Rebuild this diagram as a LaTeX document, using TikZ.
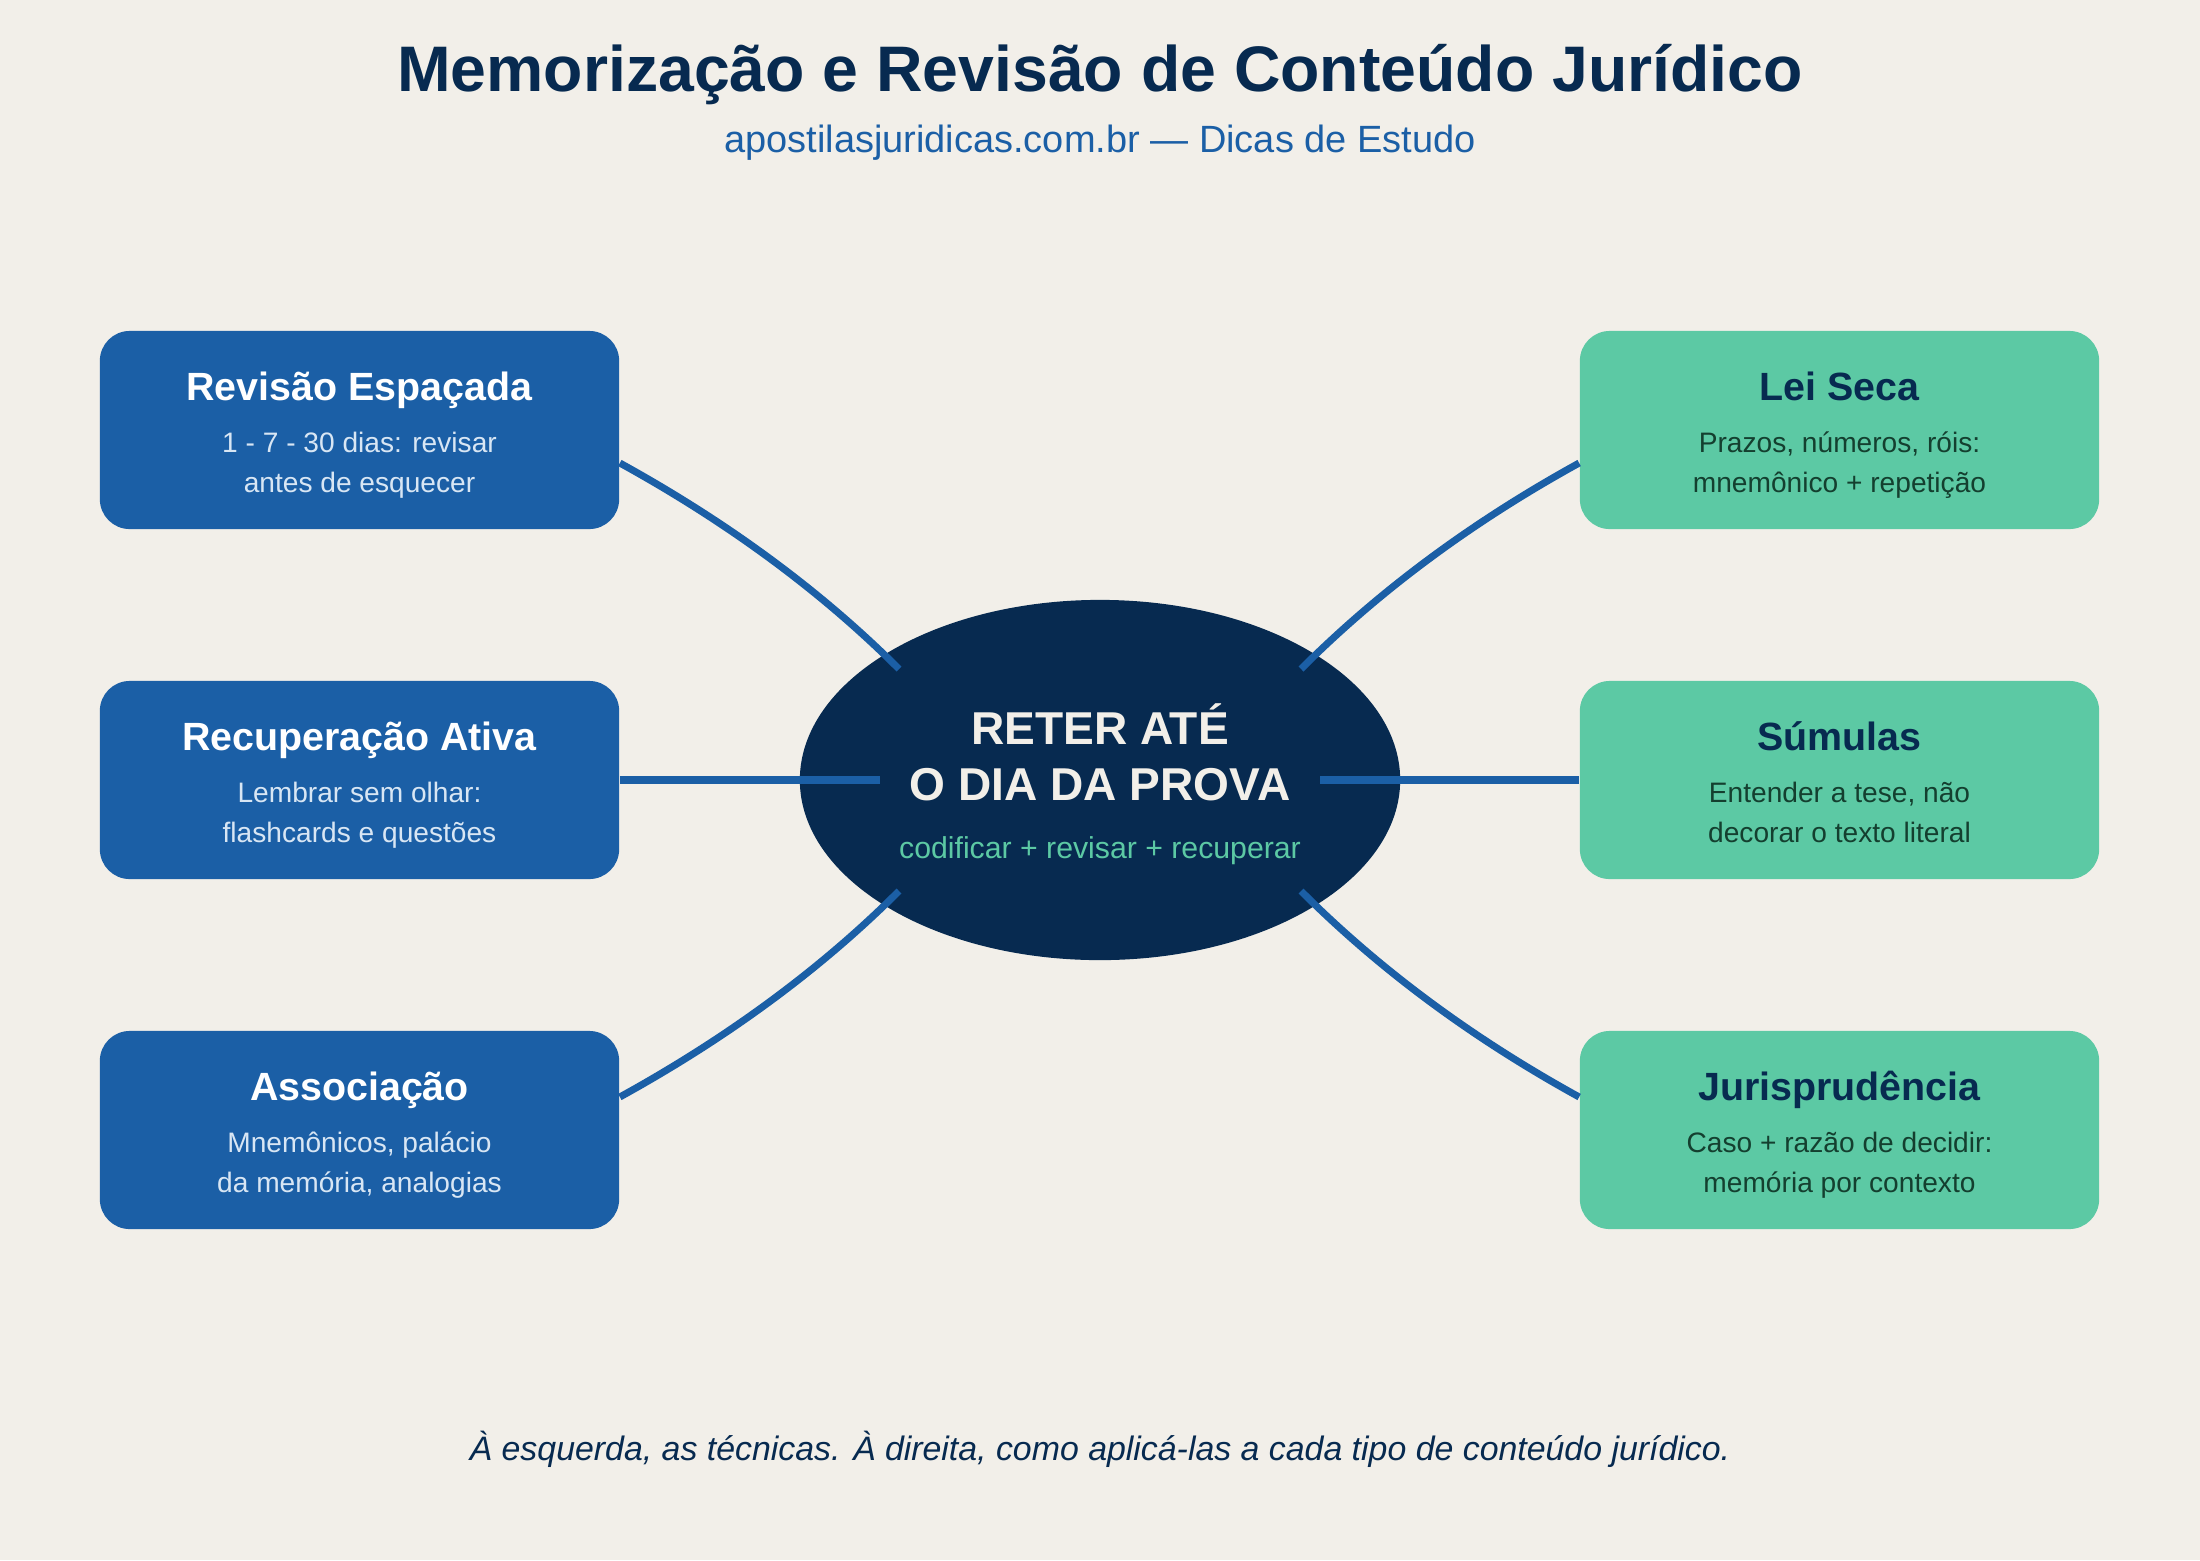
\documentclass[tikz,border=0pt]{standalone}
\usepackage{fontspec}
\setmainfont{Liberation Sans}
\usetikzlibrary{shapes.geometric}
\definecolor{paper}{HTML}{F2EFE9}
\definecolor{navy}{HTML}{072A50}
\definecolor{techblue}{HTML}{1B5FA6}
\definecolor{mint}{HTML}{5CC9A4}
\definecolor{paleblue}{HTML}{D8E6F4}
\definecolor{deepgreen}{HTML}{143F2F}
\begin{document}
\begin{tikzpicture}[x=0.01cm,y=-0.01cm,
    card/.style={rounded corners=8.5pt,minimum width=5.19cm,minimum height=1.98cm,inner sep=0pt},
    tech/.style={card,fill=techblue},
    kind/.style={card,fill=mint},
    head/.style={anchor=base,inner sep=0pt,font=\fontsize{11.2pt}{13pt}\selectfont\bfseries},
    body/.style={anchor=base,inner sep=0pt,align=center,font=\fontsize{8pt}{11.1pt}\selectfont},
    link/.style={techblue,line width=2pt}]
  \fill[paper] (0,0) rectangle (2200,1560);
  % heading
  \node[anchor=base,inner sep=0pt,navy,font=\fontsize{18.3pt}{20pt}\selectfont\bfseries] (title) at (1100,91)
    {Memorização e Revisão de Conteúdo Jurídico};
  \node[anchor=base,inner sep=0pt,techblue,font=\fontsize{10.8pt}{13pt}\selectfont] (sub) at (1100,152)
    {apostilasjuridicas.com.br — Dicas de Estudo};
  % centre
  \node[ellipse,fill=navy,minimum width=6cm,minimum height=3.6cm,inner sep=0pt] (core) at (1100,780) {};
  \node[anchor=base,inner sep=0pt,align=center,paper,font=\fontsize{13.1pt}{15.9pt}\selectfont\bfseries] (goal) at (1100,800)
    {RETER ATÉ\\O DIA DA PROVA};
  \node[anchor=base,inner sep=0pt,mint,font=\fontsize{8.6pt}{10pt}\selectfont] (recipe) at (1100,858)
    {codificar + revisar + recuperar};
  % techniques
  \node[tech] (spaced) at (359.5,430) {};
  \node[head,white] (spacedT) at (359.5,400) {Revisão Espaçada};
  \node[body,paleblue] (spacedB) at (359.5,492) {1 - 7 - 30 dias: revisar\\antes de esquecer};
  \node[tech] (recall) at (359.5,780) {};
  \node[head,white] (recallT) at (359.5,750) {Recuperação Ativa};
  \node[body,paleblue] (recallB) at (359.5,842) {Lembrar sem olhar:\\flashcards e questões};
  \node[tech] (assoc) at (359.5,1130) {};
  \node[head,white] (assocT) at (359.5,1100) {Associação};
  \node[body,paleblue] (assocB) at (359.5,1192) {Mnemônicos, palácio\\da memória, analogias};
  % content types
  \node[kind] (law) at (1839.5,430) {};
  \node[head,navy] (lawT) at (1839.5,400) {Lei Seca};
  \node[body,deepgreen] (lawB) at (1839.5,492) {Prazos, números, róis:\\mnemônico + repetição};
  \node[kind] (sum) at (1839.5,780) {};
  \node[head,navy] (sumT) at (1839.5,750) {Súmulas};
  \node[body,deepgreen] (sumB) at (1839.5,842) {Entender a tese, não\\decorar o texto literal};
  \node[kind] (case) at (1839.5,1130) {};
  \node[head,navy] (caseT) at (1839.5,1100) {Jurisprudência};
  \node[body,deepgreen] (caseB) at (1839.5,1192) {Caso + razão de decidir:\\memória por contexto};
  % links into the centre
  \coordinate (inTL) at (899,669);
  \coordinate (inTR) at (1301,669);
  \coordinate (inL) at (880,780);
  \coordinate (inR) at (1320,780);
  \coordinate (inBL) at (899,891);
  \coordinate (inBR) at (1301,891);
  \draw[link] ([yshift=-0.33cm]spaced.east) .. controls +(109,60) and +(-77,-77) .. (inTL);
  \draw[link] (recall.east) -- (inL);
  \draw[link] ([yshift=0.33cm]assoc.east) .. controls +(109,-60) and +(-77,77) .. (inBL);
  \draw[link] ([yshift=-0.33cm]law.west) .. controls +(-109,60) and +(77,-77) .. (inTR);
  \draw[link] (sum.west) -- (inR);
  \draw[link] ([yshift=0.33cm]case.west) .. controls +(-109,-60) and +(77,77) .. (inBR);
  % footer
  \node[anchor=base,inner sep=0pt,navy,font=\fontsize{9.63pt}{11pt}\selectfont\itshape] (note) at (1100,1460)
    {À esquerda, as técnicas. À direita, como aplicá-las a cada tipo de conteúdo jurídico.};
\end{tikzpicture}
\end{document}
